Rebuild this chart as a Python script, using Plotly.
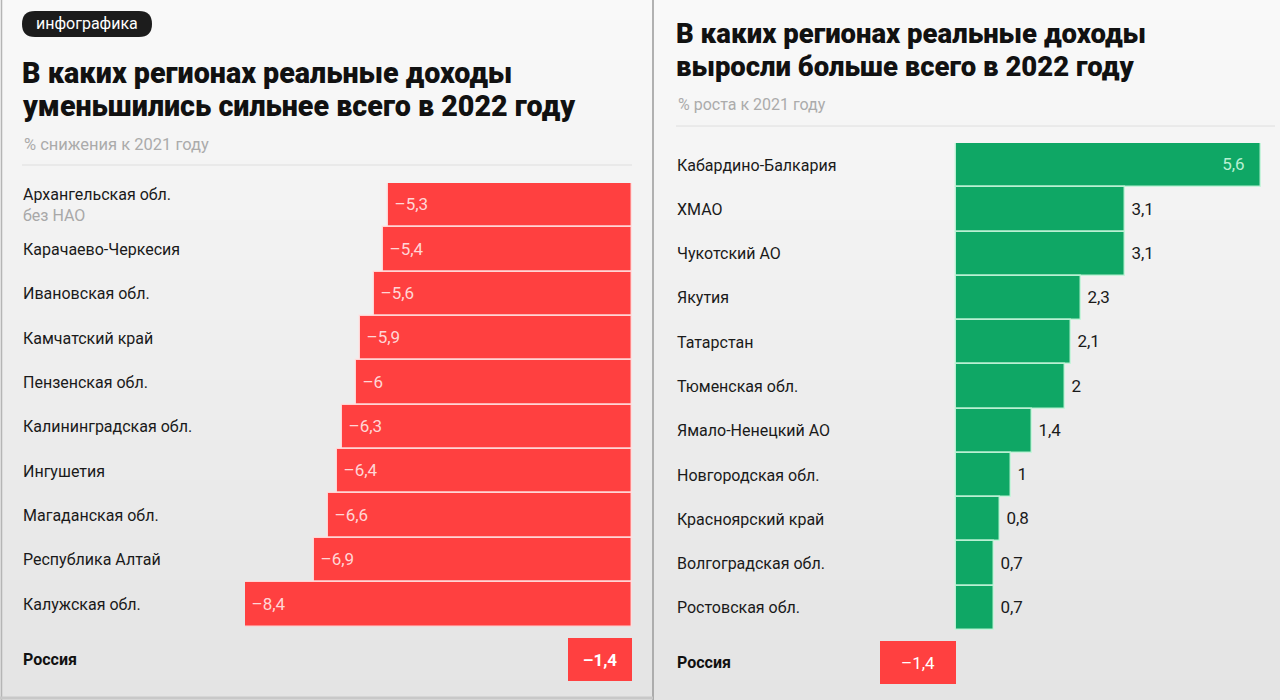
import plotly.graph_objects as go

# ---------------- DATA ----------------
left_regions = ["Архангельская обл.", "Карачаево-Черкесия", "Ивановская обл.", "Камчатский край",
                "Пензенская обл.", "Калининградская обл.", "Ингушетия", "Магаданская обл.",
                "Республика Алтай", "Калужская обл."]
left_values = [-5.3, -5.4, -5.6, -5.9, -6.0, -6.3, -6.4, -6.6, -6.9, -8.4]

right_regions = ["Кабардино-Балкария", "ХМАО", "Чукотский АО", "Якутия", "Татарстан",
                 "Тюменская обл.", "Ямало-Ненецкий АО", "Новгородская обл.", "Красноярский край",
                 "Волгоградская обл.", "Ростовская обл."]
right_values = [5.6, 3.1, 3.1, 2.3, 2.1, 2.0, 1.4, 1.0, 0.8, 0.7, 0.7]

russia_label = ["Россия"]
russia_value = [-1.4]

left_title = ["В каких регионах реальные доходы", "уменьшились сильнее всего в 2022 году"]
right_title = ["В каких регионах реальные доходы", "выросли больше всего в 2022 году"]
left_sub = "% снижения к 2021 году"
right_sub = "% роста к 2021 году"
tag = "инфографика"

# ---------------- HELPERS ----------------
W, H = 1280, 700
def px(x):
    return x / W
def py(y):
    return 1 - y / H

def fmt(v):
    s = f"{abs(v):.1f}".rstrip("0").rstrip(".").replace(".", ",")
    return ("–" + s) if v < 0 else s

NB = "\u00a0"
RED = "#ff4040"
GREEN = "#0fa765"
FONT = "Roboto"

fig = go.Figure()

# left regions
fig.add_trace(go.Bar(
    y=left_regions, x=left_values, orientation="h", xaxis="x", yaxis="y",
    marker=dict(color=RED, line=dict(color="rgba(255,225,225,0.9)", width=1.5)),
    text=[NB + fmt(v) for v in left_values], textposition="inside", insidetextanchor="end",
    insidetextfont=dict(family=FONT, size=17, color="#ffd6d6"),
    cliponaxis=False, hoverinfo="skip", showlegend=False))
# left russia
fig.add_trace(go.Bar(
    y=russia_label, x=russia_value, orientation="h", xaxis="x", yaxis="y2",
    marker=dict(color=RED, line=dict(width=0)),
    text=["<b>" + fmt(v) + "</b>" for v in russia_value], textposition="inside", insidetextanchor="middle",
    insidetextfont=dict(family=FONT, size=17, color="#ffffff"),
    cliponaxis=False, hoverinfo="skip", showlegend=False))
# right regions
rpos = ["inside" if v > 4 else "outside" for v in right_values]
fig.add_trace(go.Bar(
    y=right_regions, x=right_values, orientation="h", xaxis="x2", yaxis="y3",
    marker=dict(color=GREEN, line=dict(color="rgba(200,245,220,0.9)", width=1.5)),
    text=[fmt(v) + NB * 3 if p == "inside" else NB + fmt(v) for v, p in zip(right_values, rpos)],
    textposition=rpos, insidetextanchor="end",
    insidetextfont=dict(family=FONT, size=17, color="#b9f0d3"),
    outsidetextfont=dict(family=FONT, size=17, color="#1a1a1a"),
    cliponaxis=False, hoverinfo="skip", showlegend=False))
# right russia
fig.add_trace(go.Bar(
    y=russia_label, x=russia_value, orientation="h", xaxis="x2", yaxis="y4",
    marker=dict(color=RED, line=dict(width=0)),
    text=[fmt(v) for v in russia_value], textposition="inside", insidetextanchor="middle",
    insidetextfont=dict(family=FONT, size=17, color="#ffffff"),
    cliponaxis=False, hoverinfo="skip", showlegend=False))

hid = dict(visible=False, fixedrange=True)
fig.update_layout(
    width=W, height=H, margin=dict(l=0, r=0, t=0, b=0),
    paper_bgcolor="#efefef", plot_bgcolor="rgba(0,0,0,0)",
    bargap=0.0, showlegend=False,
    font=dict(family=FONT, color="#1a1a1a"),
    xaxis=dict(domain=[px(245), px(632)], range=[-8.4, 0], anchor="y", **hid),
    xaxis2=dict(domain=[px(880), px(1261)], range=[-1.4, 5.6], anchor="y3", **hid),
    yaxis=dict(domain=[py(626.5), py(183)], categoryorder="array", categoryarray=left_regions,
               autorange="reversed", anchor="x", **hid),
    yaxis2=dict(domain=[py(681), py(638)], anchor="x", **hid),
    yaxis3=dict(domain=[py(630), py(143)], categoryorder="array", categoryarray=right_regions,
                autorange="reversed", anchor="x2", **hid),
    yaxis4=dict(domain=[py(684), py(641)], anchor="x2", **hid),
)

shapes = []
# background gradient bands
n = 35
for i in range(n):
    t = i / (n - 1)
    c = int(round(249 - t * (249 - 228)))
    shapes.append(dict(type="rect", xref="paper", yref="paper", x0=0, x1=1,
                       y0=py((i + 1) * H / n), y1=py(i * H / n),
                       fillcolor=f"rgb({c},{c},{c})", line=dict(width=0), layer="below"))
# panel borders
shapes.append(dict(type="line", xref="paper", yref="paper", x0=px(653), x1=px(653), y0=0, y1=1,
                   line=dict(color="#9a9a9a", width=1.5)))
shapes.append(dict(type="line", xref="paper", yref="paper", x0=px(1.5), x1=px(1.5), y0=0, y1=1,
                   line=dict(color="#b5b5b5", width=1.5)))
shapes.append(dict(type="line", xref="paper", yref="paper", x0=0, x1=px(653), y0=py(698), y1=py(698),
                   line=dict(color="#c8c8c8", width=3)))
# separators under subtitles
shapes.append(dict(type="line", xref="paper", yref="paper", x0=px(22), x1=px(632), y0=py(165), y1=py(165),
                   line=dict(color="#dedede", width=1)))
shapes.append(dict(type="line", xref="paper", yref="paper", x0=px(676), x1=px(1275), y0=py(126), y1=py(126),
                   line=dict(color="#dedede", width=1)))
# tag pill (rounded)
x0, x1, y0, y1, r = 22, 152, 11, 37, 13
path = (f"M {px(x0 + r)},{py(y0)} L {px(x1 - r)},{py(y0)} "
        f"Q {px(x1)},{py(y0)} {px(x1)},{py(y0 + r)} "
        f"Q {px(x1)},{py(y1)} {px(x1 - r)},{py(y1)} "
        f"L {px(x0 + r)},{py(y1)} "
        f"Q {px(x0)},{py(y1)} {px(x0)},{py(y1 - r)} "
        f"Q {px(x0)},{py(y0)} {px(x0 + r)},{py(y0)} Z")
shapes.append(dict(type="path", xref="paper", yref="paper", path=path,
                   fillcolor="#1c1c1c", line=dict(width=0)))
fig.update_layout(shapes=shapes)

ann = []
ann.append(dict(text=tag, x=px(87), y=py(24), xref="paper", yref="paper", showarrow=False,
                xanchor="center", yanchor="middle", font=dict(family=FONT, size=16, color="#ffffff")))
for i, line in enumerate(left_title):
    ann.append(dict(text=line, x=px(20), y=py(73 + i * 33), xref="paper", yref="paper",
                    showarrow=False, xanchor="left", yanchor="middle",
                    font=dict(family=FONT, size=28.7, color="#111111", weight=900)))
for i, line in enumerate(right_title):
    ann.append(dict(text=line, x=px(674), y=py(33 + i * 33), xref="paper", yref="paper",
                    showarrow=False, xanchor="left", yanchor="middle",
                    font=dict(family=FONT, size=27.5, color="#111111", weight=900)))
ann.append(dict(text=left_sub, x=px(22), y=py(144), xref="paper", yref="paper", showarrow=False,
                xanchor="left", yanchor="middle", font=dict(family=FONT, size=16.5, color="#ababab")))
ann.append(dict(text=right_sub, x=px(676), y=py(104), xref="paper", yref="paper", showarrow=False,
                xanchor="left", yanchor="middle", font=dict(family=FONT, size=16, color="#ababab")))

for reg in left_regions:
    txt = reg
    if reg.startswith("Архангельская"):
        txt = reg + "<br><span style='color:#a8a8a8'>без НАО</span>"
    ann.append(dict(text=txt, x=px(21), y=reg, xref="paper", yref="y", showarrow=False,
                    xanchor="left", yanchor="middle", align="left",
                    font=dict(family=FONT, size=16, color="#1a1a1a")))
ann.append(dict(text="<b>" + russia_label[0] + "</b>", x=px(21), y=russia_label[0], xref="paper", yref="y2",
                showarrow=False, xanchor="left", yanchor="middle", font=dict(family=FONT, size=16, color="#111111")))
for reg in right_regions:
    ann.append(dict(text=reg, x=px(675), y=reg, xref="paper", yref="y3", showarrow=False,
                    xanchor="left", yanchor="middle", font=dict(family=FONT, size=16, color="#1a1a1a")))
ann.append(dict(text="<b>" + russia_label[0] + "</b>", x=px(675), y=russia_label[0], xref="paper", yref="y4",
                showarrow=False, xanchor="left", yanchor="middle", font=dict(family=FONT, size=16, color="#111111")))
fig.update_layout(annotations=ann)

fig.write_html("out.html", config={"displayModeBar": False},
               post_script="document.body.style.margin='0';document.body.style.overflow='hidden';")
